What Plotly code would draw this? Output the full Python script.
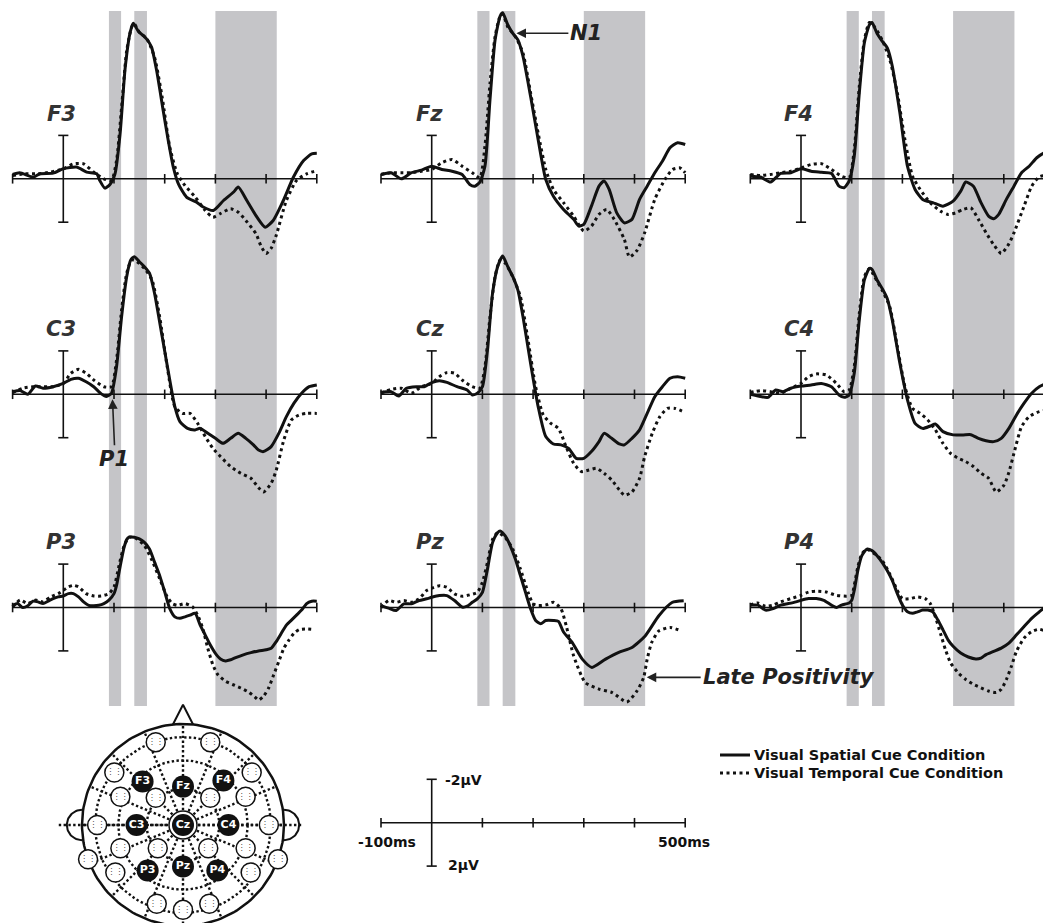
import math
import plotly.graph_objects as go

# ---------------- data (ms, µV; negative plotted upward) ----------------
TICKS_MS = [-100, 100, 200, 300, 400, 500]
BANDS_MS = [(90, 114), (140, 165), (300, 421)]
ELECTRODES = [["F3", "Fz", "F4"], ["C3", "Cz", "C4"], ["P3", "Pz", "P4"]]

F3_T_SP = [-100,-86,-59,-46,-20,0,26,46,66,72,82,92,102,112,122,132,138,148,164,174,184,197,207,217,227,243,263,276,296,316,336,345,362,382,398,414,434,454,474,490,500]
F3_V_SP = [-0.2,-0.28,-0.08,-0.23,-0.26,-0.46,-0.54,-0.31,-0.23,0.08,0.43,0.26,-0.23,-2.07,-5.1,-6.76,-7.17,-6.8,-6.45,-6.07,-5.0,-3.15,-1.77,-0.54,0.23,0.84,1.08,1.3,1.46,1.0,0.61,0.38,1.0,1.77,2.23,1.92,1.0,-0.08,-0.84,-1.15,-1.18]
F3_T_TP = [-100,-75,-50,-25,0,20,40,60,80,95,105,115,125,135,140,150,165,180,195,210,225,240,260,280,295,310,330,345,360,380,390,400,410,420,440,460,480,500]
F3_V_TP = [-0.15,-0.23,-0.23,-0.31,-0.46,-0.69,-0.69,-0.31,0,0.08,-0.84,-3.3,-5.9,-7.0,-7.14,-6.75,-6.45,-5.6,-3.76,-1.46,-0.23,0.31,0.84,1.46,1.77,1.6,1.38,1.54,1.92,2.53,3.1,3.44,3.2,2.6,1.0,0.08,-0.23,-0.38]

FZ_T_SP = [-100,-80,-60,-40,-20,0,20,40,60,75,85,95,105,115,125,135,140,150,160,170,180,195,210,225,240,260,280,290,300,315,330,340,350,365,380,395,410,425,440,455,470,485,500]
FZ_V_SP = [-0.2,-0.28,0,-0.28,-0.4,-0.58,-0.43,-0.35,-0.2,0.26,0.34,0.15,-0.58,-3.66,-6.4,-7.5,-7.65,-7.1,-6.7,-6.4,-5.65,-3.8,-1.8,0.03,0.8,1.41,1.87,2.18,2.1,1.26,0.34,0.1,0.49,1.57,2.03,1.87,0.95,0.34,-0.28,-0.81,-1.43,-1.66,-1.58]
FZ_T_TP = [-100,-80,-60,-40,-20,0,20,40,60,80,95,105,115,125,135,140,150,165,180,195,210,225,240,260,280,300,315,330,345,360,380,390,405,420,440,460,475,490,500]
FZ_V_TP = [-0.2,-0.28,-0.28,-0.28,-0.35,-0.43,-0.74,-0.89,-0.58,-0.28,-0.05,-1.5,-4.4,-6.55,-7.5,-7.6,-7.0,-6.55,-5.8,-3.96,-2.1,-0.43,0.49,1.1,1.72,2.41,2.18,1.64,1.41,1.87,2.8,3.6,3.3,2.49,0.95,0.03,-0.43,-0.5,-0.28]

F4_T_SP = [-100,-80,-60,-40,-20,0,20,40,60,75,85,95,105,115,125,135,140,150,160,170,180,195,210,225,240,260,280,300,315,325,340,355,370,380,390,405,420,435,450,465,480,495]
F4_V_SP = [-0.12,-0.08,0.15,-0.25,-0.28,-0.46,-0.35,-0.3,-0.25,0.34,0.41,0.1,-1.04,-3.96,-6.27,-7.1,-7.2,-6.7,-6.35,-6.04,-5.2,-3.04,-0.58,0.49,0.95,1.1,1.26,1.03,0.57,0.15,0.34,1.1,1.72,1.84,1.64,0.95,0.34,-0.28,-0.58,-0.97,-1.2,-1.3]
F4_T_TP = [-100,-80,-60,-40,-20,0,20,40,60,80,95,105,115,125,135,145,160,175,190,205,220,235,255,275,290,305,320,335,350,365,380,395,410,420,440,455,470,495]
F4_V_TP = [-0.2,-0.15,-0.2,-0.28,-0.35,-0.5,-0.66,-0.7,-0.43,-0.12,-0.05,-1.35,-4.27,-6.4,-7.2,-7.0,-6.4,-5.5,-3.96,-1.8,-0.12,0.49,1.1,1.49,1.64,1.57,1.41,1.34,1.87,2.49,3.03,3.44,3.0,2.49,1.26,0.34,-0.09,-0.2]

C3_T_SP = [-100,-85,-70,-55,-40,-20,0,15,30,45,60,75,85,95,105,115,125,133,140,150,160,170,180,195,210,220,230,245,260,270,285,300,315,330,345,360,375,385,395,410,425,440,455,470,485,500]
C3_V_SP = [-0.12,-0.17,0,-0.38,-0.28,-0.35,-0.5,-0.69,-0.74,-0.58,-0.35,-0.02,0.1,-0.05,-1.27,-3.58,-5.42,-6.19,-6.34,-6.11,-5.88,-5.58,-4.65,-2.66,-0.66,0.57,1.26,1.57,1.64,1.57,1.8,2.03,2.26,2.03,1.8,2.03,2.33,2.57,2.64,2.41,1.8,1.03,0.41,-0.05,-0.35,-0.43]
C3_T_TP = [-100,-80,-60,-40,-20,0,15,30,45,60,80,95,105,115,125,135,145,160,175,190,205,220,235,250,265,280,295,310,330,350,370,385,395,410,420,435,450,465,480,500]
C3_V_TP = [-0.08,-0.28,-0.35,-0.35,-0.35,-0.5,-0.97,-1.15,-0.97,-0.66,-0.35,-0.35,-1.58,-3.89,-5.58,-6.19,-6.11,-5.8,-5.27,-3.58,-1.27,0.57,0.88,0.88,1.34,1.95,2.49,2.87,3.33,3.64,3.87,4.3,4.5,4.1,3.5,2.1,1.18,0.95,0.88,0.88]

CZ_T_SP = [-100,-80,-65,-50,-30,-15,0,15,30,50,70,80,90,100,110,120,130,140,150,160,170,180,195,210,225,240,255,270,285,300,315,330,340,355,370,380,395,410,425,440,455,470,485,500]
CZ_V_SP = [-0.08,-0.12,0.08,-0.28,-0.35,-0.35,-0.54,-0.63,-0.55,-0.35,-0.2,0.03,-0.05,-0.35,-2.04,-4.65,-5.88,-6.37,-5.88,-5.42,-4.8,-3.58,-1.43,0.57,1.95,2.29,2.33,2.49,2.95,2.95,2.64,2.18,1.8,2.03,2.29,2.33,2.03,1.64,0.88,0.11,-0.35,-0.74,-0.81,-0.74]
CZ_T_TP = [-100,-80,-60,-40,-20,0,15,30,45,60,80,95,105,115,125,135,145,160,175,190,205,220,235,250,265,280,295,310,325,340,355,370,380,395,410,420,435,450,465,480,500]
CZ_V_TP = [-0.05,-0.23,-0.28,-0.05,-0.35,-0.5,-0.81,-1.0,-0.97,-0.66,-0.35,-0.28,-1.27,-3.58,-5.42,-6.19,-6.04,-5.42,-4.5,-2.5,-0.35,0.95,1.34,1.57,2.41,3.18,3.56,3.49,3.41,3.64,3.95,4.4,4.65,4.5,3.87,2.87,1.8,1.03,0.65,0.65,0.84]

C4_T_SP = [-100,-80,-65,-50,-35,-20,0,20,40,60,75,85,95,105,115,125,135,140,150,160,170,180,195,210,225,240,255,265,280,300,320,335,350,365,380,395,410,425,440,455,470,485,500]
C4_V_SP = [0,0.1,0.14,-0.2,-0.12,-0.28,-0.38,-0.43,-0.5,-0.35,0.03,0.14,0.03,-0.97,-3.43,-5.27,-5.8,-5.76,-5.27,-4.88,-4.42,-3.43,-1.43,0.26,1.34,1.57,1.46,1.37,1.72,1.87,1.87,1.86,2.03,2.14,2.18,2.03,1.57,0.95,0.41,-0.05,-0.35,-0.5,-0.6]
C4_T_TP = [-100,-80,-60,-40,-20,0,15,30,50,70,85,95,105,115,125,135,145,160,175,190,205,220,235,250,265,280,295,310,325,340,355,370,385,400,410,420,435,450,470,490,500]
C4_V_TP = [-0.08,-0.17,-0.12,-0.05,-0.28,-0.5,-0.81,-0.94,-0.89,-0.5,-0.12,-0.2,-1.27,-3.73,-5.42,-5.8,-5.42,-4.8,-4.04,-2.2,-0.35,0.65,0.88,1.18,1.64,2.26,2.72,2.95,3.1,3.33,3.64,3.87,4.5,4.2,3.6,2.72,1.49,1.03,0.8,0.72,0.72]

P3_T_SP = [-100,-90,-80,-70,-60,-50,-40,-30,-20,-10,0,10,20,30,40,50,60,70,80,90,100,105,110,115,120,125,130,140,150,160,170,180,190,200,210,220,230,240,250,260,270,280,290,300,310,320,330,340,355,370,385,400,410,420,430,440,450,460,470,480,490,500]
P3_V_SP = [-0.1,-0.18,0,-0.08,-0.29,-0.26,-0.18,-0.29,-0.41,-0.49,-0.53,-0.64,-0.64,-0.49,-0.26,-0.1,-0.08,-0.1,-0.18,-0.34,-0.64,-1.02,-1.63,-2.24,-2.78,-3.13,-3.24,-3.24,-3.16,-3.0,-2.7,-2.09,-1.48,-0.72,0.05,0.43,0.5,0.43,0.35,0.27,0.81,1.27,1.73,2.11,2.37,2.46,2.41,2.31,2.18,2.08,2.0,1.95,1.88,1.57,1.19,0.81,0.58,0.35,0.12,-0.18,-0.29,-0.29]
P3_T_TP = [-100,-85,-70,-55,-40,-25,-10,0,10,20,30,45,60,75,90,100,110,120,130,145,160,175,190,205,215,225,240,255,265,275,285,295,305,320,335,350,365,380,385,395,405,415,425,435,445,455,465,480,495]
P3_V_TP = [-0.03,-0.34,-0.18,-0.34,-0.26,-0.49,-0.64,-0.79,-0.95,-1.02,-0.95,-0.64,-0.53,-0.53,-0.64,-0.95,-1.94,-2.85,-3.24,-3.16,-2.85,-2.17,-1.33,-0.49,-0.18,-0.1,-0.18,-0.03,0.35,0.96,1.88,2.64,3.1,3.4,3.56,3.71,3.89,4.17,4.27,4.08,3.71,3.1,2.49,1.88,1.5,1.19,1.02,0.99,1.02]

PZ_T_SP = [-100,-85,-70,-55,-40,-25,-10,0,15,30,45,60,70,80,90,100,110,120,130,135,145,155,165,175,185,195,205,215,225,240,250,260,277,297,316,343,369,395,421,448,474,497]
PZ_V_SP = [-0.09,0.03,0.14,-0.17,-0.17,-0.32,-0.4,-0.47,-0.55,-0.55,-0.32,-0.02,-0.06,-0.24,-0.4,-0.7,-1.77,-2.99,-3.45,-3.53,-3.3,-2.84,-2.23,-1.47,-0.7,0.06,0.6,0.75,0.6,0.6,0.64,1.13,1.61,2.38,2.76,2.38,2.07,1.84,1.31,0.38,-0.23,-0.31]
PZ_T_TP = [-100,-85,-70,-55,-40,-25,-10,0,15,30,45,60,75,90,100,110,120,130,145,160,175,190,200,210,225,240,255,266,280,303,330,356,385,405,418,425,434,448,470,493]
PZ_V_TP = [0,-0.32,-0.24,-0.32,-0.24,-0.4,-0.78,-0.89,-1.0,-0.93,-0.63,-0.52,-0.58,-0.7,-1.16,-2.08,-3.14,-3.45,-3.22,-2.69,-1.77,-0.7,-0.17,-0.09,-0.12,-0.24,0.06,0.9,2.23,3.46,3.76,3.92,4.35,3.84,3.23,2.38,1.61,1.08,0.92,1.08]

P4_T_SP = [-100,-85,-70,-55,-40,-25,-10,0,15,30,45,60,70,80,95,100,105,112,120,130,140,150,160,170,180,190,200,210,220,230,240,250,260,270,280,290,300,315,330,345,355,365,380,395,410,425,440,455,470,485,500]
P4_V_SP = [-0.11,-0.11,0.12,0.05,-0.11,-0.18,-0.26,-0.33,-0.41,-0.41,-0.33,-0.11,0,-0.11,-0.21,-0.33,-0.79,-1.7,-2.39,-2.69,-2.62,-2.39,-2.08,-1.7,-1.25,-0.64,-0.11,0.2,0.27,0.2,0.12,0.12,0.2,0.58,1.03,1.49,1.79,2.1,2.28,2.37,2.33,2.17,2.02,1.87,1.64,1.26,0.88,0.5,0.2,-0.06,-0.15]
P4_T_TP = [-100,-85,-70,-55,-40,-20,0,15,30,50,70,90,100,105,112,120,130,145,160,175,190,200,215,230,245,255,265,275,285,295,310,325,340,355,370,385,395,405,415,425,440,455,470,485,500]
P4_V_TP = [-0.11,-0.21,-0.06,-0.11,-0.26,-0.41,-0.56,-0.71,-0.75,-0.71,-0.56,-0.52,-0.56,-1.02,-1.86,-2.47,-2.69,-2.47,-2.17,-1.55,-0.79,-0.41,-0.41,-0.49,-0.41,-0.18,0.43,1.19,1.95,2.55,3.01,3.32,3.54,3.7,3.85,3.92,3.77,3.32,2.71,2.02,1.41,1.11,1.0,1.11,1.11]

DATA = {
    "F3": (F3_T_SP, F3_V_SP, F3_T_TP, F3_V_TP),
    "Fz": (FZ_T_SP, FZ_V_SP, FZ_T_TP, FZ_V_TP),
    "F4": (F4_T_SP, F4_V_SP, F4_T_TP, F4_V_TP),
    "C3": (C3_T_SP, C3_V_SP, C3_T_TP, C3_V_TP),
    "Cz": (CZ_T_SP, CZ_V_SP, CZ_T_TP, CZ_V_TP),
    "C4": (C4_T_SP, C4_V_SP, C4_T_TP, C4_V_TP),
    "P3": (P3_T_SP, P3_V_SP, P3_T_TP, P3_V_TP),
    "Pz": (PZ_T_SP, PZ_V_SP, PZ_T_TP, PZ_V_TP),
    "P4": (P4_T_SP, P4_V_SP, P4_T_TP, P4_V_TP),
}

SERIES_NAMES = ["Visual Spatial Cue Condition", "Visual Temporal Cue Condition"]

# electrode map (head radius = 1)
HEAD_FILLED_LABELS = ["F3", "Fz", "F4", "C3", "Cz", "C4", "P3", "Pz", "P4"]
HEAD_FILLED_X = [-0.40, 0.0, 0.40, -0.46, 0.0, 0.45, -0.35, 0.0, 0.34]
HEAD_FILLED_Y = [0.43, 0.38, 0.44, 0.0, 0.0, 0.0, -0.45, -0.41, -0.45]
HEAD_OPEN_X = [-0.27, 0.27, -0.68, 0.68, -0.27, 0.27, -0.62, 0.62, -0.85, 0.85, -0.62, 0.62, -0.25, 0.25, -0.67, 0.67, -0.26, 0.0, 0.26, -0.94, 0.94]
HEAD_OPEN_Y = [0.82, 0.82, 0.52, 0.52, 0.27, 0.27, 0.28, 0.28, 0.0, 0.0, -0.23, -0.23, -0.23, -0.23, -0.47, -0.47, -0.78, -0.84, -0.78, -0.34, -0.34]
HEAD_RINGS = [0.36, 0.64, 0.87]

SCALE_LABELS = ["-2µV", "2µV", "-100ms", "500ms"]

# ---------------- layout geometry (reference pixels) ----------------
OFF = 8                       # page body margin
W, H = 1051 - OFF, 923 - OFF  # figure size so it fits the window
PX_MS = 0.507
PX_UV = 21.7
COL_X0 = [63.3, 431.7, 801.0]
ROW_Y0 = [178.8, 394.3, 607.5]
COL_DOM = [(8, 352), (356, 722), (726, 1051)]
FONT = "DejaVu Sans"
INK = "#111111"


def fx(px):  # reference px -> paper x
    return (px - OFF) / W


def fy(py):  # reference px -> paper y
    return 1 - (py - OFF) / H


fig = go.Figure()
layout = dict(width=W, height=H, autosize=False, margin=dict(l=0, r=0, t=0, b=0, pad=0),
              paper_bgcolor="white", plot_bgcolor="rgba(0,0,0,0)", showlegend=False)
shapes, annotations = [], []


def ax_names(n):
    return ("xaxis" if n == 1 else f"xaxis{n}", "yaxis" if n == 1 else f"yaxis{n}",
            "x" if n == 1 else f"x{n}", "y" if n == 1 else f"y{n}")


def seg_trace(xs, ys, xr, yr, width=1.6, dash=None):
    return go.Scatter(x=xs, y=ys, xaxis=xr, yaxis=yr, mode="lines",
                      line=dict(color=INK, width=width, dash=dash), showlegend=False, hoverinfo="skip")


def time_axis(xr, yr, tick_h=0.22, cap_ms=10):
    fig.add_trace(seg_trace([-100, 500], [0, 0], xr, yr))
    tx, ty = [], []
    for t in TICKS_MS:
        tx += [t, t, None]
        ty += [-tick_h, tick_h, None]
    fig.add_trace(seg_trace(tx, ty, xr, yr))
    fig.add_trace(seg_trace([0, 0, None, -cap_ms, cap_ms, None, -cap_ms, cap_ms],
                            [-2, 2, None, -2, -2, None, 2, 2], xr, yr))


def set_axes(n, xdom_px, ydom_px, xrange, yrange):
    xk, yk, xr, yr = ax_names(n)
    layout[xk] = dict(domain=[fx(xdom_px[0]), fx(xdom_px[1])], range=xrange, visible=False, anchor=yr)
    layout[yk] = dict(domain=[fy(ydom_px[1]), fy(ydom_px[0])], range=yrange, visible=False, anchor=xr)
    return xr, yr


SOLID = dict(color=INK, width=3, shape="spline", smoothing=0.6)
DOTTED = dict(color=INK, width=3, dash="3px,3.5px", shape="spline", smoothing=0.6)

n = 0
for r in range(3):
    for c in range(3):
        n += 1
        name = ELECTRODES[r][c]
        d0, d1 = COL_DOM[c]
        xr, yr = set_axes(n, (d0, d1), (OFF, 923),
                          [(d0 - COL_X0[c]) / PX_MS, (d1 - COL_X0[c]) / PX_MS],
                          [(923 - ROW_Y0[r]) / PX_UV, (OFF - ROW_Y0[r]) / PX_UV])
        time_axis(xr, yr)
        tsp, vsp, ttp, vtp = DATA[name]
        fig.add_trace(go.Scatter(x=ttp, y=vtp, xaxis=xr, yaxis=yr, mode="lines", line=DOTTED,
                                 name=SERIES_NAMES[1], showlegend=False, hoverinfo="skip"))
        fig.add_trace(go.Scatter(x=tsp, y=vsp, xaxis=xr, yaxis=yr, mode="lines", line=SOLID,
                                 name=SERIES_NAMES[0], showlegend=False, hoverinfo="skip"))
        annotations.append(dict(xref=xr, yref=yr, x=-4, y=-3.0, text=f"<b><i>{name}</i></b>",
                                showarrow=False, xanchor="center", yanchor="middle",
                                font=dict(family=FONT, size=21, color="#333333")))
        if r == 0:
            for (b0, b1) in BANDS_MS:
                shapes.append(dict(type="rect", xref=xr, yref="paper", x0=b0, x1=b1,
                                   y0=fy(706), y1=fy(11), fillcolor="#c5c5c8",
                                   line=dict(width=0), layer="below"))
        arrow = dict(showarrow=True, arrowhead=2, arrowsize=1.2, arrowwidth=1.6, arrowcolor="#222",
                     font=dict(family=FONT, size=21, color="#222"))
        if name == "Fz":
            annotations.append(dict(xref=xr, yref=yr, x=167, y=-6.71, text="<b><i>N1</i></b>",
                                    ax=52, ay=0, xanchor="left", yanchor="middle", **arrow))
        if name == "C3":
            annotations.append(dict(xref=xr, yref=yr, x=97, y=0.23, text="<b><i>P1</i></b>",
                                    ax=2, ay=46, xanchor="center", yanchor="top", **arrow))
        if name == "Pz":
            annotations.append(dict(xref=xr, yref=yr, x=424, y=3.22, text="<b><i>Late Positivity</i></b>",
                                    ax=54, ay=0, xanchor="left", yanchor="middle", **arrow))

# ---------------- electrode map ----------------
HC_X, HC_Y, HR = 183.0, 825.0, 101.0
xr, yr = set_axes(10, (OFF, 366), (680, 923),
                  [(OFF - HC_X) / HR, (366 - HC_X) / HR],
                  [-(923 - HC_Y) / HR, (HC_Y - 680) / HR])

dx, dy = [], []
for rr in HEAD_RINGS:
    for k in range(121):
        a = 2 * math.pi * k / 120
        dx.append(rr * math.cos(a)); dy.append(rr * math.sin(a))
    dx.append(None); dy.append(None)
for k in range(16):
    a = 2 * math.pi * k / 16
    dx += [0.1 * math.cos(a), math.cos(a), None]
    dy += [0.1 * math.sin(a), math.sin(a), None]
dx += [-1.23, 1.18, None]; dy += [0, 0, None]
fig.add_trace(seg_trace(dx, dy, xr, yr, width=2.4, dash="2.4px,2.4px"))

hx = [math.cos(2 * math.pi * k / 180) for k in range(181)]
hy = [math.sin(2 * math.pi * k / 180) for k in range(181)]
fig.add_trace(seg_trace(hx, hy, xr, yr, width=2.5))
fig.add_trace(seg_trace([-0.1, 0, 0.1], [0.995, 1.19, 0.995], xr, yr, width=2))
ex, ey = [], []
for side in (-1, 1):
    for k in range(41):
        a = math.pi / 2 + math.pi * k / 40
        ex.append(side * (1.0 + 0.15 * abs(math.cos(a))))
        ey.append(0.15 * math.sin(a))
    ex.append(None); ey.append(None)
fig.add_trace(seg_trace(ex, ey, xr, yr, width=2))

fig.add_trace(go.Scatter(x=HEAD_OPEN_X, y=HEAD_OPEN_Y, xaxis=xr, yaxis=yr, mode="markers+text",
                         text=["⋮⋮" for _ in HEAD_OPEN_X], textposition="middle center",
                         textfont=dict(family=FONT, size=8, color="#444"),
                         marker=dict(symbol="circle", size=19, color="white", line=dict(color=INK, width=1.5)),
                         showlegend=False, hoverinfo="skip"))
fig.add_trace(go.Scatter(x=[HEAD_FILLED_X[4]], y=[HEAD_FILLED_Y[4]], xaxis=xr, yaxis=yr, mode="markers",
                         marker=dict(symbol="circle", size=28, color="white", line=dict(color=INK, width=1.5)),
                         showlegend=False, hoverinfo="skip"))
fig.add_trace(go.Scatter(x=HEAD_FILLED_X, y=HEAD_FILLED_Y, xaxis=xr, yaxis=yr, mode="markers+text",
                         text=[f"<b>{t}</b>" for t in HEAD_FILLED_LABELS], textposition="middle center",
                         textfont=dict(family=FONT, size=11, color="white"),
                         marker=dict(symbol="circle", size=22, color=INK),
                         showlegend=False, hoverinfo="skip"))

# ---------------- scale bar ----------------
SB_X0, SB_Y0 = 431.7, 822.7
xr, yr = set_axes(11, (340, 740), (735, 905),
                  [(340 - SB_X0) / PX_MS, (740 - SB_X0) / PX_MS],
                  [(905 - SB_Y0) / PX_UV, (735 - SB_Y0) / PX_UV])
time_axis(xr, yr)
sb_pos = [(22, -1.97, "left"), (29, 1.95, "left"), (-88, 0.88, "center"), (497, 0.88, "center")]
for (tx, ty, anc), lab in zip(sb_pos, SCALE_LABELS):
    annotations.append(dict(xref=xr, yref=yr, x=tx, y=ty, text=f"<b>{lab}</b>", showarrow=False,
                            xanchor=anc, yanchor="middle", font=dict(family=FONT, size=14, color=INK)))

# ---------------- legend (drawn as key) ----------------
xr, yr = set_axes(12, (700, 1051), (735, 795), [700, 1051], [795, 735])
LEG_Y = [755, 773]
for i, (nm, st) in enumerate(zip(SERIES_NAMES, [SOLID, DOTTED])):
    fig.add_trace(go.Scatter(x=[720, 750], y=[LEG_Y[i], LEG_Y[i]], xaxis=xr, yaxis=yr, mode="lines",
                             line=dict(color=INK, width=3, dash=st.get("dash")),
                             showlegend=False, hoverinfo="skip"))
    annotations.append(dict(xref=xr, yref=yr, x=752, y=LEG_Y[i], text=f"<b>{nm}</b>", showarrow=False,
                            xanchor="left", yanchor="middle", font=dict(family=FONT, size=14.5, color=INK)))

layout["shapes"] = shapes
layout["annotations"] = annotations
fig.update_layout(**layout)
fig.write_html("out.html")
